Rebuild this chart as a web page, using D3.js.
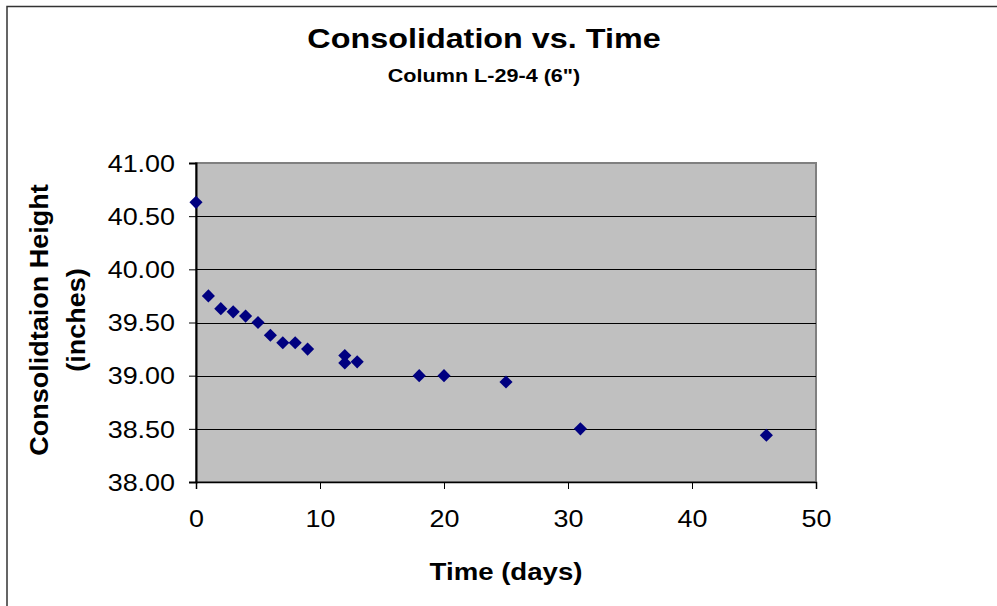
<!DOCTYPE html>
<html>
<head>
<meta charset="utf-8">
<style>
  body { margin: 0; background: white; overflow: hidden; }
  svg { display: block; font-family: "Liberation Sans", Arial, sans-serif; }
  .tick text { font-size: 23px; fill: black; }
</style>
<script src="https://d3js.org/d3.v7.min.js"></script>
</head>
<body>
<script>
const days    = [0, 1, 2, 3, 4, 5, 6, 7, 8, 9, 12, 12, 13, 18, 20, 25, 31, 46];
const heights = [40.63, 39.75, 39.63, 39.60, 39.56, 39.50, 39.38, 39.31, 39.31, 39.25,
                 39.19, 39.12, 39.13, 39.00, 39.00, 38.94, 38.50, 38.44];
const xTicks = [0, 10, 20, 30, 40, 50];
const yTicks = [38, 38.5, 39, 39.5, 40, 40.5, 41];

const width = 997, height = 606;
const plot = {left: 196, right: 816, top: 163, bottom: 482};
// the original text is drawn a bit wider than Liberation Sans
const stretch = 1.17;

const svg = d3.select("body").append("svg")
    .attr("width", width)
    .attr("height", height);

// outer chart border (runs off right and bottom)
svg.append("rect")
    .attr("x", 7).attr("y", 6.5)
    .attr("width", 1100).attr("height", 700)
    .attr("fill", "white")
    .attr("stroke", "#333")
    .attr("stroke-width", 1.5);

const x = d3.scaleLinear().domain([0, 50]).range([plot.left, plot.right]);
const y = d3.scaleLinear().domain([38, 41]).range([plot.bottom, plot.top]);

// plot area
svg.append("rect")
    .attr("x", plot.left).attr("y", plot.top)
    .attr("width", plot.right - plot.left)
    .attr("height", plot.bottom - plot.top)
    .attr("fill", "#c0c0c0")
    .attr("stroke", "#808080")
    .attr("stroke-width", 2);

// gridlines
svg.append("g")
    .selectAll("line")
    .data(yTicks.filter(d => d > 38 && d < 41))
    .join("line")
    .attr("x1", plot.left).attr("x2", plot.right)
    .attr("y1", d => Math.round(y(d)) + 0.5)
    .attr("y2", d => Math.round(y(d)) + 0.5)
    .attr("stroke", "black")
    .attr("stroke-width", 1);

// axes
const xAxis = svg.append("g")
    .attr("transform", `translate(0,${plot.bottom})`)
    .call(d3.axisBottom(x).tickValues(xTicks).tickFormat(d3.format("d")).tickSize(7).tickPadding(22));
xAxis.select(".domain").attr("stroke", "black").attr("stroke-width", 1.5);
xAxis.selectAll(".tick line").attr("stroke", "black");
xAxis.selectAll(".tick text")
    .attr("transform", function() { return `translate(0,${this.getAttribute("y")}) scale(${stretch},1)`; })
    .attr("y", 0);

const yAxis = svg.append("g")
    .attr("transform", `translate(${plot.left},0)`)
    .call(d3.axisLeft(y).tickValues(yTicks).tickFormat(d3.format(".2f")).tickSize(7).tickPadding(14));
yAxis.select(".domain").attr("stroke", "black").attr("stroke-width", 2);
yAxis.selectAll(".tick line").attr("stroke", "black");
yAxis.selectAll(".tick text")
    .attr("dy", "0.36em")
    .attr("transform", function() { return `translate(${this.getAttribute("x")},0) scale(${stretch},1)`; })
    .attr("x", 0);

// markers
const diamond = d3.symbol().type(d3.symbolDiamond2).size(110);
svg.append("g")
    .selectAll("path")
    .data(days.map((d, i) => [d, heights[i]]))
    .join("path")
    .attr("transform", d => `translate(${x(d[0])},${y(d[1])})`)
    .attr("d", diamond)
    .attr("fill", "#000080");

// titles
svg.append("text")
    .attr("transform", `translate(484,48) scale(1.155,1)`)
    .attr("text-anchor", "middle")
    .attr("font-size", 28).attr("font-weight", "bold")
    .text("Consolidation vs. Time");

svg.append("text")
    .attr("transform", `translate(484,82) scale(1.2,1)`)
    .attr("text-anchor", "middle")
    .attr("font-size", 18).attr("font-weight", "bold")
    .text("Column L-29-4 (6\")");

svg.append("text")
    .attr("transform", `translate(${(plot.left + plot.right) / 2},580) scale(1.2,1)`)
    .attr("text-anchor", "middle")
    .attr("font-size", 23).attr("font-weight", "bold")
    .text("Time (days)");

const yTitle = svg.append("text")
    .attr("transform", "translate(0,320) rotate(-90) scale(1.08,1)")
    .attr("text-anchor", "middle")
    .attr("font-size", 25).attr("font-weight", "bold");
yTitle.append("tspan").attr("x", 0).attr("y", 48).text("Consolidtaion Height");
yTitle.append("tspan").attr("x", 0).attr("y", 85).text("(inches)");
</script>
</body>
</html>
